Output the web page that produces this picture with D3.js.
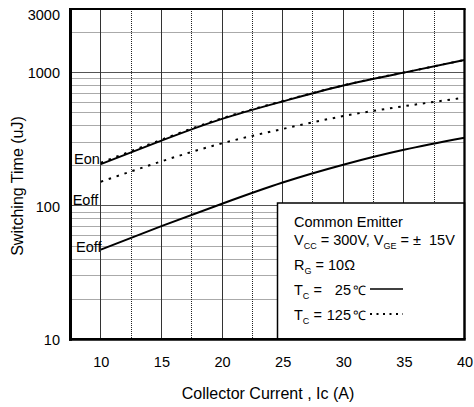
<!DOCTYPE html>
<html>
<head>
<meta charset="utf-8">
<script src="https://cdn.jsdelivr.net/npm/d3@7"></script>
<style>
  html, body { margin: 0; padding: 0; background: #fff; }
  svg { display: block; font-family: "Liberation Sans", Arial, Helvetica, sans-serif; }
  text { white-space: pre; }
</style>
</head>
<body>
<svg id="chart" width="474" height="407"></svg>
<script>
// Switching energy vs collector current
const currents = [10, 15, 20, 25, 30, 35, 40];
const eon25   = [206, 309, 450, 608, 800, 1000, 1245];
const eon125  = [211, 314, 455, 612, 803, 1002, 1245];
const eoff125 = [152, 216, 295, 378, 472, 560, 649];
const eoff25  = [47.1, 70.6, 104, 150, 204, 264, 325];

const xTicks = [10, 15, 20, 25, 30, 35, 40];
const yTicks = [10, 100, 1000, 3000];
const xMajorGrid = [10, 15, 20, 25, 30, 35];
const xMinorGrid = [12.5, 17.5, 22.5, 27.5, 32.5, 37.5];
const yMajorGrid = [100, 1000];
const yMinorGrid = [20, 30, 40, 50, 60, 70, 80, 90, 200, 300, 400, 500, 600, 700, 800, 900, 2000];

const L = 70.5, R = 464.5, T = 9, B = 339.3;
const x = d3.scaleLinear().domain([7.5, 40]).range([L, R]);
const y = d3.scaleLog().domain([10, 3000]).range([B, T]);
const crisp = v => Math.round(v - 0.5) + 0.5;

const svg = d3.select("#chart");
svg.append("rect").attr("width", 474).attr("height", 407).attr("fill", "#fff");

// grid
const grid = svg.append("g");
grid.selectAll(".hmin").data(yMinorGrid).join("line")
  .attr("x1", L).attr("x2", R)
  .attr("y1", d => crisp(y(d))).attr("y2", d => crisp(y(d)))
  .attr("stroke", "#555").attr("stroke-width", 1).attr("stroke-dasharray", "1,1");
grid.selectAll(".hmaj").data(yMajorGrid).join("line")
  .attr("x1", L).attr("x2", R)
  .attr("y1", d => crisp(y(d))).attr("y2", d => crisp(y(d)))
  .attr("stroke", "#555").attr("stroke-width", 1.2);
grid.selectAll(".vmin").data(xMinorGrid).join("line")
  .attr("x1", d => crisp(x(d))).attr("x2", d => crisp(x(d)))
  .attr("y1", T).attr("y2", B)
  .attr("stroke", "#222").attr("stroke-width", 1).attr("stroke-dasharray", "1,1");
grid.selectAll(".vmaj").data(xMajorGrid).join("line")
  .attr("x1", d => crisp(x(d))).attr("x2", d => crisp(x(d)))
  .attr("y1", T).attr("y2", B)
  .attr("stroke", "#333").attr("stroke-width", 1);

// curves
const line = d3.line()
  .x(d => x(d[0])).y(d => y(d[1]))
  .curve(d3.curveNatural);
const pairs = vals => currents.map((c, i) => [c, vals[i]]);

const curves = [
  { vals: eon125,  dash: "2.5,5.8" },
  { vals: eoff125, dash: "2.5,5.8" },
  { vals: eon25,   dash: null },
  { vals: eoff25,  dash: null }
];
svg.append("g").selectAll("path").data(curves).join("path")
  .attr("d", d => line(pairs(d.vals)))
  .attr("fill", "none").attr("stroke", "#000").attr("stroke-width", 2)
  .attr("stroke-dasharray", d => d.dash);

// curve labels
const curveLabels = [
  { t: "Eon",  x: 74,   y: 163.5 },
  { t: "Eoff", x: 72.7, y: 205 },
  { t: "Eoff", x: 76,   y: 251.7 }
];
svg.append("g").selectAll("text").data(curveLabels).join("text")
  .attr("x", d => d.x).attr("y", d => d.y)
  .attr("font-size", 14.5).attr("fill", "#000").text(d => d.t);

// legend box
const lg = svg.append("g");
lg.append("rect").attr("x", 277.5).attr("y", 203).attr("width", 187).attr("height", 136)
  .attr("fill", "#fff").attr("stroke", "#000").attr("stroke-width", 1.5);
const fs = 14.5, sub = 9;
lg.append("text").attr("x", 294).attr("y", 226.7).attr("font-size", fs).text("Common Emitter");
const l2 = lg.append("text").attr("x", 294).attr("y", 245).attr("font-size", fs);
l2.append("tspan").text("V");
l2.append("tspan").attr("font-size", sub).attr("dy", 4).text("CC");
l2.append("tspan").attr("dy", -4).text(" = 300V, V");
l2.append("tspan").attr("font-size", sub).attr("dy", 4).text("GE");
l2.append("tspan").attr("dy", -4).text(" = \u00b1  15V");
const l3 = lg.append("text").attr("x", 294).attr("y", 270).attr("font-size", fs);
l3.append("tspan").text("R");
l3.append("tspan").attr("font-size", sub).attr("dy", 4).text("G");
l3.append("tspan").attr("dy", -4).text(" = 10\u03a9");

const tempRows = [
  { temp: "25",  y: 295, dash: null },
  { temp: "125", y: 320, dash: "2,4.5" }
];
tempRows.forEach(r => {
  const t = lg.append("text").attr("x", 294).attr("y", r.y).attr("font-size", fs);
  t.append("tspan").text("T");
  t.append("tspan").attr("font-size", sub).attr("dy", 4).text("C");
  t.append("tspan").attr("dy", -4).text(" =");
  lg.append("text").attr("x", 351).attr("y", r.y).attr("font-size", fs)
    .attr("text-anchor", "end").text(r.temp);
  lg.append("text").attr("x", 352.5).attr("y", r.y).attr("font-size", 13).text("\u2103");
  lg.append("line").attr("x1", 370).attr("x2", 403).attr("y1", r.y - 6).attr("y2", r.y - 6)
    .attr("stroke", "#000").attr("stroke-width", r.dash ? 2 : 1.6)
    .attr("stroke-dasharray", r.dash);
});

// frame
const frame = svg.append("g").attr("fill", "none").attr("stroke", "#000");
frame.append("line").attr("x1", L - 1.5).attr("x2", R + 1.2).attr("y1", T).attr("y2", T).attr("stroke-width", 2);
frame.append("line").attr("x1", R).attr("x2", R).attr("y1", T).attr("y2", B).attr("stroke-width", 2.3);
frame.append("line").attr("x1", L).attr("x2", L).attr("y1", T - 1).attr("y2", B + 1.4).attr("stroke-width", 3);
frame.append("line").attr("x1", L - 1.5).attr("x2", R + 1.2).attr("y1", B).attr("y2", B).attr("stroke-width", 2.7);

// axes
const yAxis = d3.axisLeft(y).tickValues(yTicks).tickFormat(d3.format("d"))
  .tickSize(0).tickPadding(10.5);
const ya = svg.append("g").attr("transform", `translate(${L},0)`).call(yAxis);
ya.select(".domain").remove();
ya.selectAll("text")
  .attr("font-size", 14.5).attr("font-family", "Liberation Sans, Arial, sans-serif").attr("fill", "#000")
  .attr("dy", "0.36em")
  .attr("y", d => (d === 3000 ? 5.5 : 0));

const xAxis = d3.axisBottom(x).tickValues(xTicks).tickFormat(d3.format("d"))
  .tickSize(0);
const xa = svg.append("g").attr("transform", `translate(0,${B})`).call(xAxis);
xa.select(".domain").remove();
xa.selectAll("text")
  .attr("font-size", 14.5).attr("font-family", "Liberation Sans, Arial, sans-serif").attr("fill", "#000")
  .attr("dy", 0).attr("y", 27.4);

// axis titles
svg.append("text").attr("x", 268).attr("y", 399).attr("text-anchor", "middle")
  .attr("font-size", 16).text("Collector Current , Ic (A)");
svg.append("text").attr("transform", "translate(22.5,186) rotate(-90)")
  .attr("text-anchor", "middle").attr("font-size", 16).text("Switching Time (uJ)");
</script>
</body>
</html>
